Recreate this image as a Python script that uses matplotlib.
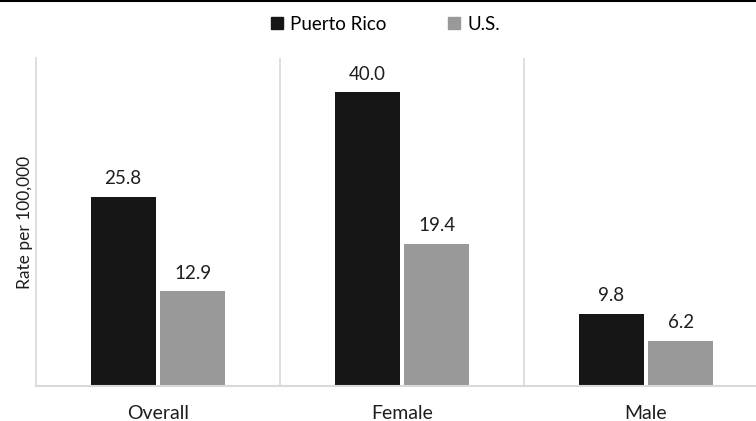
import matplotlib.pyplot as plt
from matplotlib.patches import Patch
from matplotlib.lines import Line2D
import numpy as np

# Data

categories = ["Overall", "Female", "Male"]
puerto_rico = [25.8, 40.0, 9.8]
us = [12.9, 19.4, 6.2]
series_names = ["Puerto Rico", "U.S."]

pr_color = "#161616"
us_color = "#999999"
grid_color = "#d9d9d9"
text_color = "#1e1e1e"

plt.rcParams["font.family"] = ["Lato", "DejaVu Sans"]

fig = plt.figure(figsize=(7.56, 4.21), dpi=100)
ax = fig.add_axes([36 / 756, 1 - 386 / 421, 732 / 756, 328 / 421])

x = np.arange(len(categories))
width = 0.266
offset = 0.143

bars_pr = ax.bar(x - offset, puerto_rico, width, color=pr_color)
bars_us = ax.bar(x + offset, us, width, color=us_color)

for bars, vals in [(bars_pr, puerto_rico), (bars_us, us)]:
    for b, v in zip(bars, vals):
        ax.annotate(f"{v:.1f}", (b.get_x() + b.get_width() / 2, v),
                    xytext=(0, 7), textcoords="offset points",
                    ha="center", va="bottom", fontsize=13.5, color=text_color)

ax.set_xlim(-0.5, 2.5)
ax.set_ylim(0, 44.7)

# Category separators
for sep in [0.5, 1.5]:
    ax.axvline(sep, color=grid_color, linewidth=1.2, zorder=0)

for s in ["top", "right"]:
    ax.spines[s].set_visible(False)
ax.spines["left"].set_color(grid_color)
ax.spines["bottom"].set_color(grid_color)
ax.spines["left"].set_linewidth(1.2)
ax.spines["bottom"].set_linewidth(1.5)

ax.set_yticks([])
ax.set_xticks(x)
ax.set_xticklabels(categories, fontsize=14, color=text_color)
ax.tick_params(axis="x", length=0, pad=14)

ax.set_ylabel("Rate per 100,000", fontsize=12.5, color=text_color, labelpad=2)

handles = [Patch(color=pr_color), Patch(color=us_color)]
fig.legend(handles, series_names, loc="center", bbox_to_anchor=(0.51, 1 - 24 / 421),
           ncol=2, frameon=False, fontsize=13.5, handlelength=0.6, handleheight=0.6,
           handletextpad=0.4, columnspacing=3.3)

# Top border line
fig.add_artist(Line2D([0, 1], [0.998, 0.998], transform=fig.transFigure,
                      color="black", linewidth=1.5))

plt.savefig("out.png", dpi=100)
